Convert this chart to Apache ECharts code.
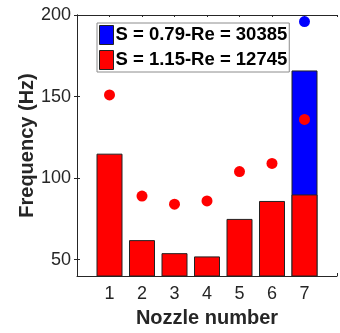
<!DOCTYPE html>
<html>
<head>
<meta charset="utf-8">
<script src="https://cdn.jsdelivr.net/npm/echarts@6/dist/echarts.min.js"></script>
<style>
  html, body { margin: 0; padding: 0; background: #fff; }
  #chart { width: 340px; height: 333px; }
</style>
</head>
<body>
<div id="chart"></div>
<script>
// nozzle positions on the x axis
var nozzles = [1, 2, 3, 4, 5, 6, 7];
// S = 1.15 (red): bar heights and dot values
var redBars = [115, 62, 54, 52, 75, 86, 90];
var redDots = [151, 89, 84, 86, 104, 109, 136];
// S = 0.79 (blue): only nozzle 7
var blueNozzle = [7];
var blueBars = [166];
var blueDots = [196];
var yTicks = [50, 100, 150, 200];

var nameBlue = 'S = 0.79-Re = 30385';
var nameRed = 'S = 1.15-Re = 12745';
var font = 'Liberation Sans, Arial, Helvetica, sans-serif';
var ink = '#262626';

function pairs(xs, ys) {
  var out = [];
  for (var i = 0; i < xs.length; i++) {
    out.push([xs[i], ys[i]]);
  }
  return out;
}

var axisLine = { show: true, lineStyle: { color: ink, width: 1 } };

var option = {
  animation: false,
  backgroundColor: '#fff',
  grid: { left: 77, right: 0, top: 15, bottom: 53 },
  legend: {
    data: [nameBlue, nameRed],
    orient: 'vertical',
    left: 97,
    top: 23,
    padding: [2, 2, 2, 2],
    itemGap: 5,
    itemWidth: 14,
    itemHeight: 19,
    icon: 'rect',
    backgroundColor: '#fff',
    borderColor: '#8c8c8c',
    borderWidth: 1,
    itemStyle: { borderColor: '#222', borderWidth: 1, opacity: 1 },
    textStyle: {
      fontFamily: font, fontSize: 18.5, fontWeight: 'bold', color: '#000',
      padding: [0, 0, 0, -3]
    },
    selectedMode: false
  },
  xAxis: [{
    type: 'value',
    min: 0, max: 8, interval: 1,
    name: 'Nozzle number',
    nameLocation: 'middle',
    nameGap: 32,
    nameMoveOverlap: false,
    nameTextStyle: { fontFamily: font, fontSize: 20, fontWeight: 'bold', color: ink },
    axisLine: axisLine,
    axisTick: { show: true, inside: true, length: 3, lineStyle: { color: ink } },
    axisLabel: {
      fontFamily: font, fontSize: 18, color: ink, margin: 9,
      formatter: function (v) { return (v >= 1 && v <= 7) ? String(v) : ''; }
    },
    splitLine: { show: false }
  }, {
    type: 'value',
    position: 'top',
    min: 0, max: 8, interval: 1,
    axisLine: axisLine,
    axisTick: { show: true, inside: true, length: 2, lineStyle: { color: ink } },
    axisLabel: { show: false },
    splitLine: { show: false }
  }],
  yAxis: [{
    type: 'value',
    min: 40, max: 200,
    name: 'Frequency (Hz)',
    nameLocation: 'middle',
    nameGap: 40,
    nameMoveOverlap: false,
    nameTextStyle: { fontFamily: font, fontSize: 20, fontWeight: 'bold', color: ink },
    axisLine: axisLine,
    axisTick: { show: true, inside: true, length: 3, lineStyle: { color: ink },
      customValues: yTicks },
    axisLabel: { fontFamily: font, fontSize: 18, color: ink, margin: 6,
      customValues: yTicks },
    splitLine: { show: false }
  }, {
    type: 'value',
    position: 'right',
    min: 40, max: 200,
    axisLine: axisLine,
    axisTick: { show: true, inside: true, length: 3, lineStyle: { color: ink },
      customValues: yTicks },
    axisLabel: { show: false },
    splitLine: { show: false }
  }],
  series: [{
    name: nameBlue,
    type: 'bar',
    barWidth: 26,
    barGap: '-100%',
    itemStyle: { color: '#0000ff', borderColor: '#222', borderWidth: 1 },
    data: pairs(blueNozzle, blueBars),
    z: 1
  }, {
    name: nameRed,
    type: 'bar',
    barWidth: 26,
    barGap: '-100%',
    itemStyle: { color: '#ff0000', borderColor: '#222', borderWidth: 1 },
    data: pairs(nozzles, redBars),
    z: 2
  }, {
    name: nameRed,
    type: 'scatter',
    symbolSize: 11,
    itemStyle: { color: '#ff0000', opacity: 1 },
    data: pairs(nozzles, redDots),
    z: 3
  }, {
    name: nameBlue,
    type: 'scatter',
    symbolSize: 11,
    itemStyle: { color: '#0000ff', opacity: 1 },
    data: pairs(blueNozzle, blueDots),
    z: 3
  }]
};

var chart = echarts.init(document.getElementById('chart'), null, { renderer: 'canvas' });
chart.setOption(option);
</script>
</body>
</html>
